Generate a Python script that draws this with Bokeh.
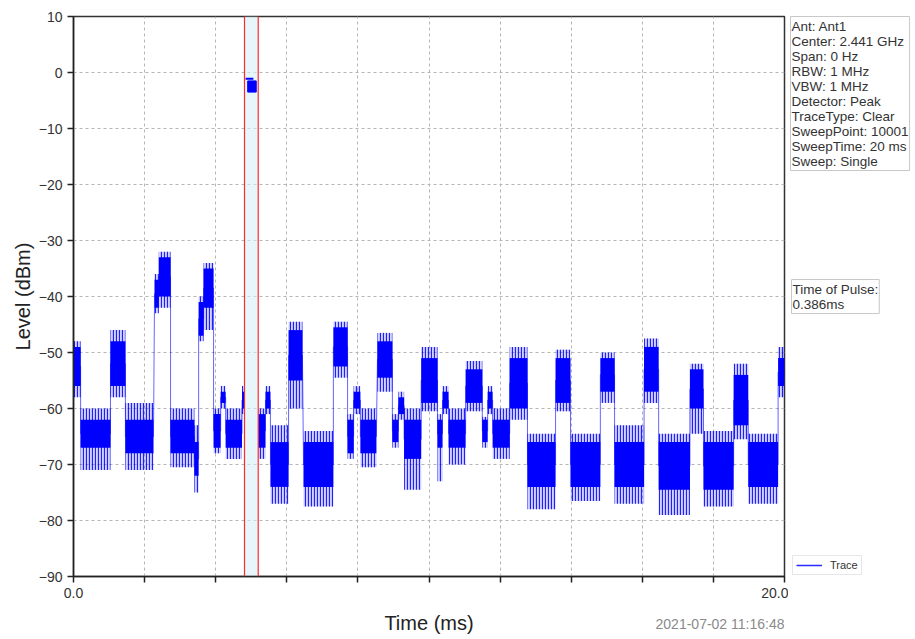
from bokeh.plotting import figure
from bokeh.layouts import row, column
from bokeh.models import (Range1d, FixedTicker, Label, Legend, LegendItem, Span,
                          BoxAnnotation, ColumnDataSource)
from bokeh.embed import file_html
from bokeh.resources import INLINE

# ---- data (time in ms, level in dBm) ----
seg_start = [0.00, 0.20, 1.04, 1.46, 2.28, 2.40, 2.73, 3.40, 3.52, 3.66, 3.94, 4.14, 4.28, 4.74,
             5.20, 5.40, 5.54, 6.05, 6.47, 7.31, 7.71, 7.88, 8.07, 8.55, 8.97, 9.14, 9.30, 9.78,
             10.24, 10.38, 10.55, 11.03, 11.50, 11.65, 11.79, 12.27, 12.77, 13.56, 13.98, 14.82,
             15.22, 16.05, 16.46, 17.34, 17.72, 18.57, 18.98, 19.82]
seg_end = [0.20, 1.04, 1.46, 2.25, 2.40, 2.73, 3.40, 3.52, 3.66, 3.94, 4.14, 4.28, 4.74, 4.81,
           5.40, 5.54, 6.05, 6.44, 7.31, 7.71, 7.88, 8.07, 8.52, 8.97, 9.14, 9.30, 9.78, 10.24,
           10.38, 10.55, 11.03, 11.50, 11.65, 11.79, 12.27, 12.77, 13.56, 13.98, 14.82, 15.22,
           16.05, 16.46, 17.34, 17.72, 18.57, 18.98, 19.82, 20.00]
seg_peak = [-48, -60, -46, -59, -36, -32, -60, -63, -40, -34, -60, -56, -60, -56,
            -60, -56, -63, -44.5, -64, -44.5, -61, -56, -60, -46.5, -61, -57, -60, -49,
            -61, -56, -60, -51.5, -61.5, -56, -60, -49, -64.5, -49.5, -64.5, -50,
            -63, -47.5, -64.5, -52, -64, -52, -64.5, -49]
seg_high = [-49, -62, -48, -62, -37, -33, -62, -66, -41, -35, -61, -57, -62, -57,
            -61, -57, -66, -46, -66, -45.5, -62, -57, -62, -48, -62, -58, -62, -51,
            -62, -57, -62, -53, -62, -57, -62, -51, -66, -51, -66, -51,
            -66, -49, -66, -53, -66, -54, -66, -51]
seg_low = [-56, -67, -56, -68, -42, -40, -68, -72, -47, -42, -67, -59, -67, -60,
           -67, -60, -74, -55, -74, -52.5, -68, -60, -68, -54.5, -66, -61, -69, -59,
           -67, -60, -67, -59, -66, -60, -67, -60, -74, -59, -74, -57,
           -74, -57, -74.5, -60, -74.5, -63, -74, -56]
seg_floor = [-58, -71, -58, -71, -43, -42, -70.5, -75, -48, -46, -68, -60, -69, -61,
             -69, -61, -77, -60, -77.5, -54.5, -69, -61, -70.5, -57, -67, -62, -74.5, -60.5,
             -73, -61, -70, -60.5, -67, -61, -69, -62, -78, -60.5, -76.5, -59,
             -77, -59, -79, -64.5, -77.5, -65.5, -77, -58]

pulse_start = [4.90]
pulse_end = [5.14]
pulse_high = [-1.5]
pulse_low = [-3.5]
pulse_top_start = [4.84]
pulse_top_end = [5.06]
pulse_top_level = [-1.1]

marker_t1 = 4.81
time_of_pulse = 0.386

x_ticks = [0, 2, 4, 6, 8, 10, 12, 14, 16, 18, 20]
y_ticks = [-90, -80, -70, -60, -50, -40, -30, -20, -10, 0, 10]

info_lines = ["Ant: Ant1", "Center: 2.441 GHz", "Span: 0 Hz", "RBW: 1 MHz", "VBW: 1 MHz",
              "Detector: Peak", "TraceType: Clear", "SweepPoint: 10001", "SweepTime: 20 ms",
              "Sweep: Single"]
timestamp = "2021-07-02 11:16:48"

FONT = "Liberation Sans"
BLUE = "#0000ff"

MAIN_W, MAIN_H = 788, 606
STRIP_H = 31
SIDE_W = 125
TOTAL_H = MAIN_H + STRIP_H

# ---------------- main chart ----------------
p = figure(width=MAIN_W, height=MAIN_H, output_backend="svg", toolbar_location=None,
           x_range=Range1d(0, 20), y_range=Range1d(-90, 10),
           min_border_left=73, min_border_right=4, min_border_top=16, min_border_bottom=30,
           background_fill_color="white", border_fill_color="white")
p.outline_line_color = "#333333"
p.outline_line_width = 1.5

p.xaxis.ticker = FixedTicker(ticks=x_ticks)
p.yaxis.ticker = FixedTicker(ticks=y_ticks)
xo = {t: "" for t in x_ticks}
xo[x_ticks[0]] = "0.0"
xo[x_ticks[-1]] = "20.0"
p.xaxis.major_label_overrides = xo
p.yaxis.major_label_overrides = {v: str(v).replace("-", "\u2212") for v in y_ticks}
for ax in (p.xaxis[0], p.yaxis[0]):
    ax.axis_line_color = "#222222"
    ax.axis_line_width = 1.5
    ax.major_tick_line_color = "#222222"
    ax.major_tick_line_width = 1.5
    ax.major_tick_out = 6
    ax.major_tick_in = 0
    ax.minor_tick_line_color = None
    ax.major_label_text_font = FONT
    ax.major_label_text_font_size = "14px"
    ax.major_label_text_color = "#333333"
    ax.axis_label_text_font = FONT
    ax.axis_label_text_font_size = "20px"
    ax.axis_label_text_font_style = "normal"
    ax.axis_label_text_color = "#222222"
p.yaxis.axis_label = "Level (dBm)"
p.yaxis.axis_label_standoff = 2
p.yaxis.major_label_standoff = 5
p.xaxis.major_label_standoff = 5

for g in (p.xgrid[0], p.ygrid[0]):
    g.grid_line_color = "#b5b5b5"
    g.grid_line_dash = "3 3"
    g.grid_line_width = 1

p.add_layout(BoxAnnotation(left=marker_t1, right=marker_t1 + time_of_pulse, level="underlay",
                           fill_color="#d6f0f7", fill_alpha=0.6, line_color=None))

src = ColumnDataSource(dict(s=seg_start, e=seg_end, pk=seg_peak, hi=seg_high,
                            lo=seg_low, fl=seg_floor))
# noise fringe (peaks / dips) drawn as fine vertical strokes
p.quad(left="s", right="e", top="pk", bottom="fl", source=src,
       fill_color=BLUE, fill_alpha=0.18, line_color=None,
       hatch_pattern="vertical_line", hatch_color=BLUE, hatch_scale=3.0,
       hatch_weight=1.2, hatch_alpha=0.85)
# dense core of the trace
p.quad(left="s", right="e", top="hi", bottom="lo", source=src,
       fill_color=BLUE, fill_alpha=1.0, line_color=None)

lx, ly = [], []
prev_end = None
for s, e, h, l in zip(seg_start, seg_end, seg_high, seg_low):
    if prev_end is not None and s - prev_end > 0.1:
        lx.append(float("nan"))
        ly.append(float("nan"))
    m = (h + l) / 2.0
    lx += [s, e]
    ly += [m, m]
    prev_end = e
p.line(lx, ly, line_color=BLUE, line_width=1, line_alpha=0.6)

p.quad(left=pulse_start, right=pulse_end, top=pulse_high, bottom=pulse_low,
       fill_color=BLUE, line_color=BLUE)
p.segment(x0=pulse_top_start, x1=pulse_top_end, y0=pulse_top_level, y1=pulse_top_level,
          line_color=BLUE, line_width=2)

p.add_layout(Span(location=marker_t1, dimension="height", line_color="#ff2a2a", line_width=1.2))
p.add_layout(Span(location=marker_t1 + time_of_pulse, dimension="height",
                  line_color="#ff2a2a", line_width=1.2))

# ---------------- strip under the chart (x label + timestamp) ----------------
strip = figure(width=MAIN_W, height=STRIP_H, output_backend="svg", toolbar_location=None,
               x_range=p.x_range, y_range=Range1d(TOTAL_H, MAIN_H),
               x_axis_type=None, y_axis_type=None,
               min_border_left=73, min_border_right=4, min_border_top=0, min_border_bottom=0,
               background_fill_color="white", border_fill_color="white")
strip.outline_line_color = None
strip.xgrid.visible = False
strip.ygrid.visible = False
strip.add_layout(Label(x=10, y=622, text="Time (ms)", text_align="center",
                       text_baseline="middle", text_font=FONT, text_font_size="20px",
                       text_color="#222222"))
strip.add_layout(Label(x=20, y=623, text=timestamp, text_align="right",
                       text_baseline="middle", text_font=FONT, text_font_size="14px",
                       text_color="#8a8a8a"))

# ---------------- side panel (info boxes + legend) ----------------
side = figure(width=SIDE_W, height=TOTAL_H, output_backend="svg", toolbar_location=None,
              x_range=Range1d(MAIN_W, MAIN_W + SIDE_W), y_range=Range1d(TOTAL_H, 0),
              x_axis_type=None, y_axis_type=None, min_border=0,
              background_fill_color="white", border_fill_color="white")
side.outline_line_color = None
side.xgrid.visible = False
side.ygrid.visible = False
side.add_layout(Label(x=790, y=16, text="\n".join(info_lines), text_baseline="top",
                      text_align="left", text_font=FONT, text_font_size="13.5px",
                      text_color="#333333", text_line_height=1.0, padding=(1, 2),
                      border_line_color="#c8c8c8", background_fill_color="white"))
side.add_layout(Label(x=791, y=279, text="Time of Pulse:\n " + f"{time_of_pulse:.3f}" + "ms",
                      text_baseline="top", text_align="left", text_font=FONT,
                      text_font_size="13.5px", text_color="#333333", text_line_height=1.0,
                      padding=(1, 2), border_line_color="#c8c8c8",
                      background_fill_color="white"))
dummy = side.line(x=[MAIN_W - 50, MAIN_W - 40], y=[-50, -50], line_color="#2a2aff",
                  line_width=1.5)
legend = Legend(items=[LegendItem(label="Trace", renderers=[dummy])],
                location=(4, TOTAL_H - 575), label_text_font=FONT, label_text_font_size="11px",
                label_text_color="#333333", glyph_width=26, glyph_height=12,
                padding=3, margin=0, spacing=0, label_standoff=8,
                border_line_color="#d0d0d0", background_fill_alpha=1.0)
side.add_layout(legend, "center")

layout = row(column(p, strip), side)
open("out.html", "w").write(file_html(layout, INLINE))
